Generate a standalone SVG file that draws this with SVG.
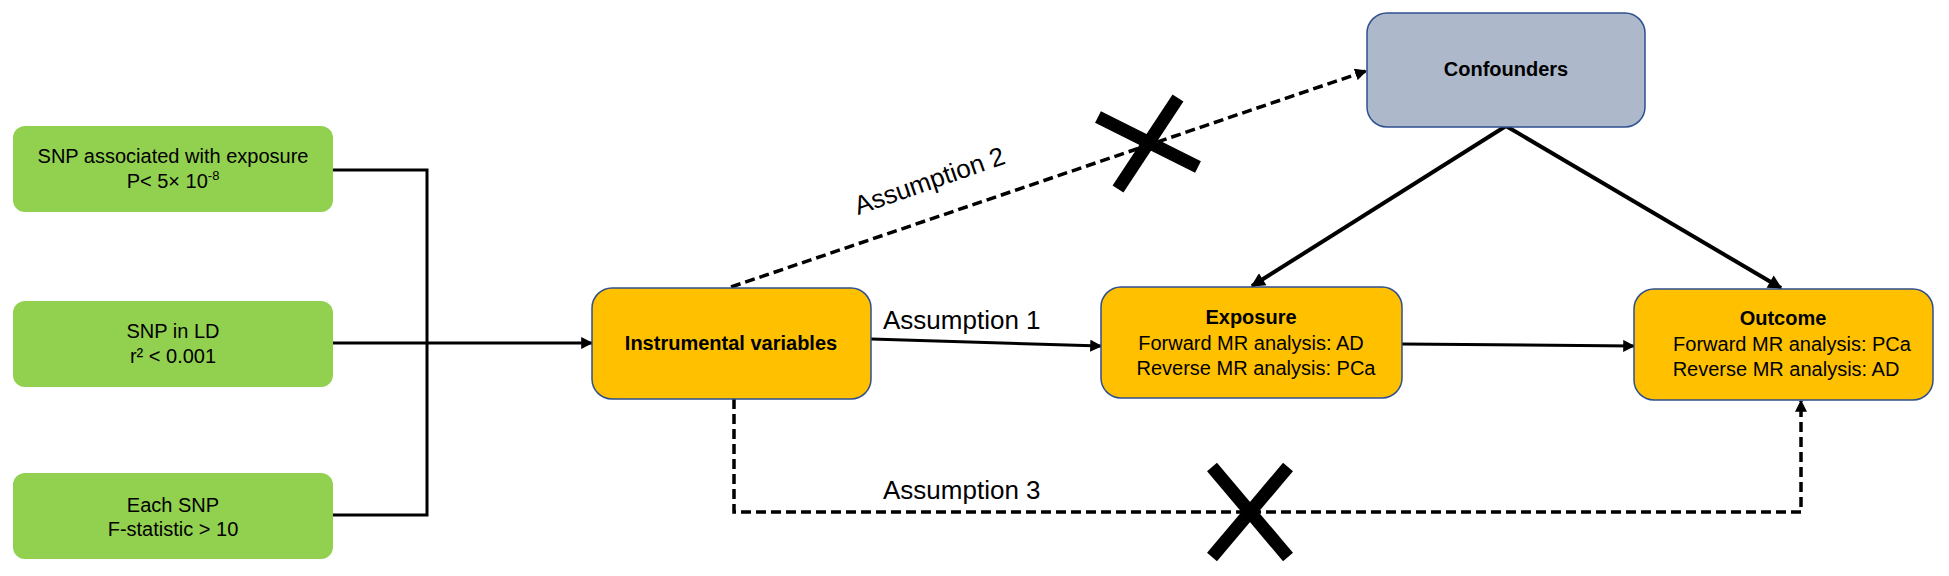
<svg xmlns="http://www.w3.org/2000/svg" width="1949" height="576" viewBox="0 0 1949 576">
<style>
  text { font-family: "Liberation Sans", Arial, sans-serif; fill: #000; }
  .g { fill: #92D050; }
  .y { fill: #FFC000; stroke: #2F4F8F; stroke-width: 1.5; }
  .c { fill: #ADB9CA; stroke: #2F4F8F; stroke-width: 1.5; }
  .t20 { font-size: 20px; text-anchor: middle; }
  .b20 { font-size: 20px; font-weight: bold; text-anchor: middle; }
  .lab { font-size: 26px; }
  .ln { fill: none; stroke: #000; stroke-width: 3; }
  .thick { fill: none; stroke: #000; stroke-width: 4; }
  .dash { fill: none; stroke: #000; stroke-width: 3.5; stroke-dasharray: 10 5; }
  .x { stroke: #000; stroke-width: 13; }
</style>
<defs>
  <marker id="arr" viewBox="0 0 10 10" refX="9" refY="5" markerWidth="12" markerHeight="12" markerUnits="userSpaceOnUse" orient="auto">
    <path d="M0,0 L10,5 L0,10 z" fill="#000"/>
  </marker>
  <marker id="arrL" viewBox="0 0 10 10" refX="9" refY="5" markerWidth="15" markerHeight="14" markerUnits="userSpaceOnUse" orient="auto">
    <path d="M0,0 L10,5 L0,10 z" fill="#000"/>
  </marker>
</defs>
<rect width="1949" height="576" fill="#fff"/>

<g id="connectors">
  <path class="ln" d="M333,170 H427 V515 H333"/>
  <path class="ln" d="M333,343 H592" marker-end="url(#arr)"/>
  <path class="ln" d="M871,339 L1101,346" marker-end="url(#arr)"/>
  <path class="ln" d="M1402,344 L1634,346" marker-end="url(#arr)"/>
  <path class="thick" d="M1506,126 L1252,286" marker-end="url(#arrL)"/>
  <path class="thick" d="M1506,126 L1781,288" marker-end="url(#arrL)"/>
  <path class="dash" d="M731,287 L1366,71" marker-end="url(#arr)"/>
  <path class="dash" d="M734,399 V512 H1801 V401" marker-end="url(#arr)"/>
  <text class="lab" x="883" y="329">Assumption 1</text>
  <text class="lab" x="0" y="0" transform="translate(858,215) rotate(-19.2)">Assumption 2</text>
  <text class="lab" x="883" y="499">Assumption 3</text>
  <g id="cross1">
    <line class="x" x1="1098" y1="117" x2="1198" y2="167"/>
    <line class="x" x1="1178" y1="98" x2="1118" y2="189"/>
  </g>
  <g id="cross2">
    <line class="x" x1="1212" y1="467" x2="1288" y2="557"/>
    <line class="x" x1="1288" y1="467" x2="1212" y2="557"/>
  </g>
</g>

<g id="snp1">
  <rect class="g" x="13" y="126" width="320" height="86" rx="12"/>
  <text class="t20" x="173" y="163">SNP associated with exposure</text>
  <text class="t20" x="173" y="188">P&lt; 5× 10<tspan font-size="13" dy="-8">-8</tspan></text>
</g>
<g id="snp2">
  <rect class="g" x="13" y="301" width="320" height="86" rx="12"/>
  <text class="t20" x="173" y="338">SNP in LD</text>
  <text class="t20" x="173" y="363">r² &lt; 0.001</text>
</g>
<g id="snp3">
  <rect class="g" x="13" y="473" width="320" height="86" rx="12"/>
  <text class="t20" x="173" y="512">Each SNP</text>
  <text class="t20" x="173" y="536">F-statistic &gt; 10</text>
</g>
<g id="iv">
  <rect class="y" x="592" y="288" width="279" height="111" rx="20"/>
  <text class="b20" x="731" y="350">Instrumental variables</text>
</g>
<g id="exposure">
  <rect class="y" x="1101" y="287" width="301" height="111" rx="20"/>
  <text class="b20" x="1251" y="324">Exposure</text>
  <text class="t20" x="1251" y="350">Forward MR analysis: AD</text>
  <text class="t20" x="1256" y="375">Reverse MR analysis: PCa</text>
</g>
<g id="outcome">
  <rect class="y" x="1634" y="289" width="299" height="111" rx="20"/>
  <text class="b20" x="1783" y="325">Outcome</text>
  <text class="t20" x="1792" y="351">Forward MR analysis: PCa</text>
  <text class="t20" x="1786" y="376">Reverse MR analysis: AD</text>
</g>
<g id="confounders">
  <rect class="c" x="1367" y="13" width="278" height="114" rx="20"/>
  <text class="b20" x="1506" y="76">Confounders</text>
</g>
</svg>
